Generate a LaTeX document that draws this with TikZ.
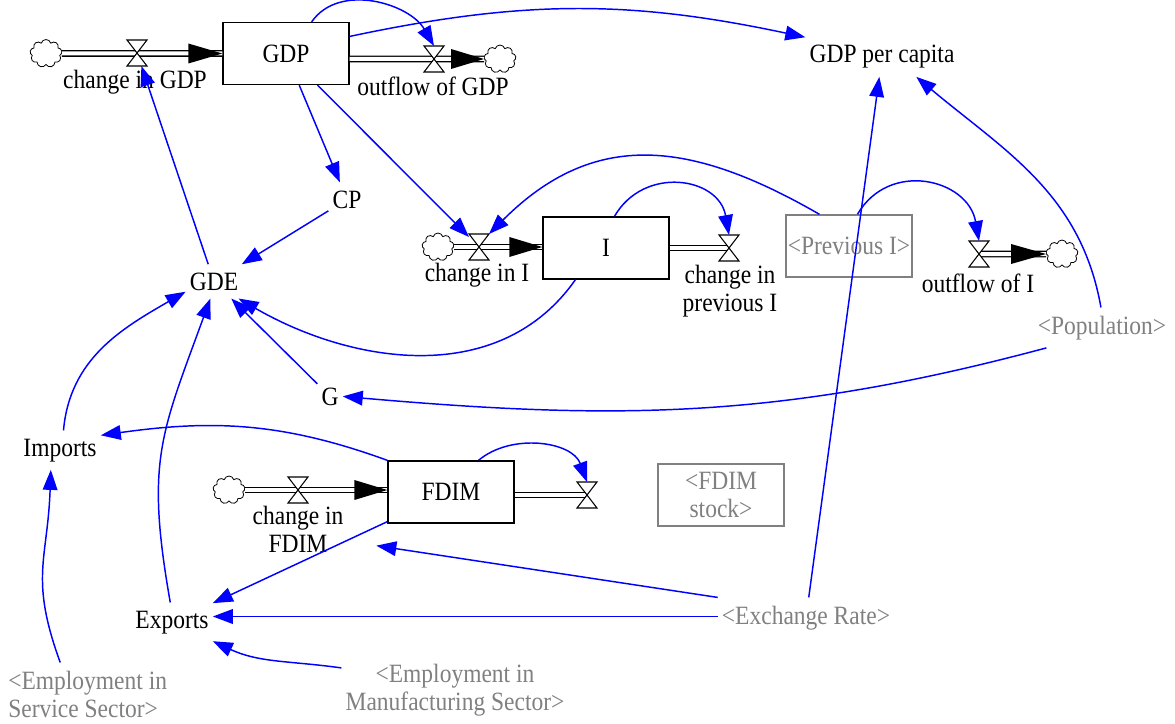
\documentclass[tikz,border=0pt]{standalone}
\usepackage{fontspec}
\setmainfont{Liberation Serif}[FakeStretch=0.89]
\usetikzlibrary{arrows.meta,shapes.symbols,calc}
\definecolor{vblue}{RGB}{0,0,255}
\definecolor{vgray}{RGB}{128,128,128}
\begin{document}
\begin{tikzpicture}[x=0.75pt,y=0.75pt,
  every node/.style={font=\fontsize{19.8pt}{21pt}\selectfont},
  var/.style={inner xsep=3pt,inner ysep=6pt},
  shadow/.style={var,text=vgray},
  stock/.style={draw=black,line width=1pt,fill=white,minimum width=94.5pt,minimum height=46.5pt,inner sep=0pt},
  ghostbox/.style={draw=vgray,line width=1pt,minimum width=94.5pt,minimum height=46.5pt,inner sep=0pt,text=vgray,align=center},
  valve/.style={minimum width=15pt,minimum height=19.5pt,inner sep=0pt,outer sep=0pt},
  valveline/.style={draw=black,fill=white,line width=0.8pt},
  pipe/.style={draw=black,double=white,double distance=3pt,line width=1.1pt},
  cloudsrc/.style={cloud,cloud puffs=9,aspect=1.2,draw=black,line width=0.6pt,minimum width=24pt,minimum height=21pt,inner sep=0pt,fill=white},
  link/.style={draw=vblue,line width=1.1pt,-{Triangle[length=15pt,width=11pt]}},
  flabel/.style={inner sep=0pt}
]
\useasboundingbox (0,0) rectangle (1175,-724);

% stocks and shadow boxes
\node[stock] (GDP) at (286,-53.5) {GDP};
\node[stock] (I) at (606,-248) {I};
\node[stock] (FDIM) at (451,-492) {FDIM};
\node[ghostbox] (PrevI) at (849,-246) {<Previous I>};
\node[ghostbox] (FDIMs) at (721,-495) {<FDIM\\stock>};

% valve placeholders
\node[valve] (v1) at (137,-53) {};
\node[valve] (vO) at (434,-59) {};
\node[valve] (vI) at (479,-247) {};
\node[valve] (vP) at (729,-248) {};
\node[valve] (vOI) at (979,-254) {};
\node[valve] (vCF) at (298,-490) {};
\node[valve] (vF) at (587,-495) {};

% clouds
\node[cloudsrc] (c1) at (46,-53.5) {};
\node[cloudsrc] (cO) at (500,-59) {};
\node[cloudsrc] (cI) at (438,-247) {};
\node[cloudsrc] (cOI) at (1062,-254) {};
\node[cloudsrc] (cF) at (229,-490) {};

% pipes
\draw[pipe] (c1.east) -- (GDP.west);
\draw[pipe] (GDP.east |- vO.center) -- (cO.west);
\draw[pipe] (cI.east) -- (I.west |- cI.east);
\draw[pipe] (I.east |- vP.center) -- (vP.center);
\draw[pipe] (vOI.center) -- (cOI.west);
\draw[pipe] (cF.east) -- (FDIM.west |- cF.east);
\draw[pipe] (FDIM.east |- vF.center) -- (vF.center);

% flow arrowheads
\fill (GDP.west) -- ++(-34,10) -- ++(0,-20) -- cycle;
\fill (cO.west) -- ++(-33,10) -- ++(0,-20) -- cycle;
\fill (I.west |- cI.east) -- ++(-33,10) -- ++(0,-20) -- cycle;
\fill (cOI.west) -- ++(-35,10) -- ++(0,-20) -- cycle;
\fill (FDIM.west |- cF.east) -- ++(-33,10) -- ++(0,-20) -- cycle;

% valves
\foreach \v in {v1,vO,vI,vP,vOI,vCF,vF}
  \filldraw[valveline] (\v.north west) -- (\v.north east) -- (\v.south west) -- (\v.south east) -- cycle;

% flow labels
\node[flabel,anchor=base] (l1) at (135,-89) {change in GDP};
\node[flabel,anchor=base] (l2) at (433,-95) {outflow of GDP};
\node[flabel,anchor=base] (l3) at (477,-281) {change in I};
\node[flabel,align=center] (l4) at (730,-291) {change in\\previous I};
\node[flabel,anchor=base] (l5) at (978,-292) {outflow of I};
\node[flabel,align=center] (l6) at (298,-529) {change in\\FDIM};

% variables
\node[var,anchor=base] (GPC) at (882,-63) {GDP per capita};
\node[var,anchor=base] (CP) at (347,-208) {CP};
\node[var,anchor=base] (GDE) at (214,-290) {GDE};
\node[var,anchor=base] (G) at (330,-405) {G};
\node[var,anchor=base] (Imp) at (60,-456) {Imports};
\node[var,anchor=base] (Exp) at (172,-628) {Exports};
\node[shadow,anchor=base] (Pop) at (1102,-334) {<Population>};
\node[shadow,anchor=base] (ExR) at (806,-624) {<Exchange Rate>};
\node[shadow,align=left,anchor=west] (ES) at (4,-694) {<Employment in\\Service Sector>};
\node[shadow,align=center] (EM) at (455,-690) {<Employment in\\Manufacturing Sector>};

% connectors
\draw[link] (GDE) -- (v1);
\draw[link] (GDP.51) to[out=55,in=120] (vO.north);
\draw[link] (GDP.15) to[out=12,in=168] (GPC.north west);
\draw[link] (GDP) -- (CP);
\draw[link] (GDP) -- (vI);
\draw[link] (CP) -- (GDE);
\draw[link] (PrevI.133) to[out=150,in=45,looseness=1.15] (vI.north east);
\draw[link] (I.75) to[out=60,in=100,looseness=1.3] (vP.north);
\draw[link] (PrevI.75) to[out=60,in=100,looseness=1.3] (vOI.north);
\draw[link] (I.226) to[out=235,in=-30] (GDE.-35);
\draw[link] (Pop.93) to[out=100,in=-40] (GPC.-30);
\draw[link] (ExR) -- (GPC);
\draw[link] (Pop.200) to[out=195,in=-5] (G.east);
\draw[link] (G) -- (GDE);
\draw[link] (Imp.80) to[out=85,in=210] (GDE.200);
\draw[link] (Exp.95) to[out=100,in=250,looseness=1.2] (GDE.-102);
\draw[link] (FDIM.north west) to[out=160,in=8] (Imp.20);
\draw[link] (FDIM) -- (Exp);
\draw[link] (ExR.north west) -- ($(FDIM.south west)+(-11,-22)$);
\draw[link] (ExR.west |- 0,-616.5) -- (Exp.east |- 0,-616.5);
\draw[link] (EM.169) to[out=172,in=-25] (Exp.-25);
\draw[link] (ES.131) to[out=110,in=268,looseness=1.2] (Imp.-115);
\draw[link] (FDIM.49) to[out=40,in=110] (vF.north);
\end{tikzpicture}
\end{document}
